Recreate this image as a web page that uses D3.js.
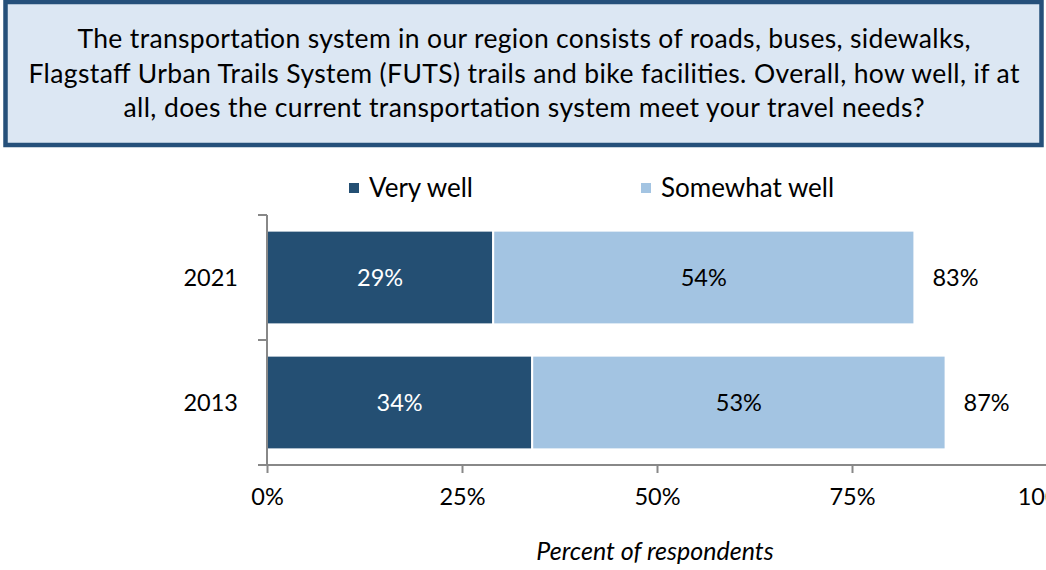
<!DOCTYPE html>
<html><head><meta charset="utf-8">
<script src="https://cdn.jsdelivr.net/npm/d3@7"></script>
<style>body{margin:0;background:#fff}svg{display:block}</style>
</head><body>
<svg id="c" width="1046" height="570"></svg>
<script>
const titleLines = [
  "The transportation system in our region consists of roads, buses, sidewalks,",
  "Flagstaff Urban Trails System (FUTS) trails and bike facilities. Overall, how well, if at",
  "all, does the current transportation system meet your travel needs?"
];
const years = ["2021", "2013"];
const seriesNames = ["Very well", "Somewhat well"];
const veryWell = [29, 34];
const somewhatWell = [54, 53];
const totals = [83, 87];
const xTicks = [0, 25, 50, 75, 100];
const xTickLabels = ["0%", "25%", "50%", "75%", "100%"];
const axisTitle = "Percent of respondents";
const colors = ["#244f73", "#a3c4e2"];

const FONT = "Lato, 'Open Sans', sans-serif";
const NUM = 23.5;
const svg = d3.select("#c");

// title box
svg.append("rect").attr("x", 5.5).attr("y", 2).attr("width", 1036).attr("height", 143)
  .attr("fill", "#dce7f3").attr("stroke", "#25507a").attr("stroke-width", 4.5);
const titleWidths = [893, 991, 801];
svg.append("g").selectAll("text").data(titleLines).join("text")
  .attr("x", 524).attr("y", (d, i) => 48 + i * 34.5)
  .attr("text-anchor", "middle").attr("font-family", FONT).attr("font-size", 26.5)
  .attr("textLength", (d, i) => titleWidths[i]).attr("lengthAdjust", "spacing")
  .attr("fill", "#000").text(d => d);

const x = d3.scaleLinear().domain([0, 100]).range([267, 1047]);
const y = d3.scaleBand().domain(years).range([215, 465]).paddingInner(0.25).paddingOuter(0.125);
const yb = d3.scaleBand().domain(years).range([215, 465]);

const stacked = years.map((yr, i) => [
  {yr, s: 0, x0: 0, x1: veryWell[i], v: veryWell[i]},
  {yr, s: 1, x0: veryWell[i], x1: veryWell[i] + somewhatWell[i], v: somewhatWell[i]}
]).flat();

const g = svg.append("g");
g.selectAll("rect").data(stacked).join("rect")
  .attr("x", d => x(d.x0)).attr("width", d => x(d.x1) - x(d.x0))
  .attr("y", d => y(d.yr)).attr("height", y.bandwidth())
  .attr("fill", d => colors[d.s]).attr("stroke", "#fff").attr("stroke-width", 2);

g.selectAll("text.seg").data(stacked).join("text").attr("class", "seg")
  .attr("x", d => x((d.x0 + d.x1) / 2)).attr("y", d => y(d.yr) + y.bandwidth() / 2)
  .attr("dy", "0.35em").attr("text-anchor", "middle")
  .attr("font-family", FONT).attr("font-size", NUM)
  .attr("fill", d => d.s === 0 ? "#fff" : "#000").text(d => d.v + "%");

g.selectAll("text.tot").data(years).join("text").attr("class", "tot")
  .attr("x", (d, i) => x(totals[i]) + 18).attr("y", d => y(d) + y.bandwidth() / 2)
  .attr("dy", "0.35em").attr("font-family", FONT).attr("font-size", NUM).text((d, i) => totals[i] + "%");

// y axis
const yAxis = svg.append("g").attr("transform", "translate(267,0)");
yAxis.append("line").attr("x1", 0).attr("x2", 0).attr("y1", 215).attr("y2", 465)
  .attr("stroke", "#888").attr("stroke-width", 2);
yAxis.selectAll("line.t").data(years.map(d => yb(d)).concat([yb(years[1]) + yb.bandwidth()]))
  .join("line").attr("class", "t").attr("x1", -9).attr("x2", 0).attr("y1", d => d).attr("y2", d => d)
  .attr("stroke", "#888").attr("stroke-width", 2);
yAxis.selectAll("text").data(years).join("text")
  .attr("x", -29).attr("y", d => yb(d) + yb.bandwidth() / 2).attr("dy", "0.35em")
  .attr("text-anchor", "end").attr("font-family", FONT).attr("font-size", NUM).text(d => d);

// x axis
const xAxis = svg.append("g").attr("transform", "translate(0,465)")
  .call(d3.axisBottom(x).tickValues(xTicks).tickFormat((d, i) => xTickLabels[i]).tickSize(8).tickSizeOuter(0));
xAxis.select(".domain").attr("stroke", "#888").attr("stroke-width", 2).attr("d", "M258,0H1047");
xAxis.selectAll(".tick line").attr("stroke", "#888").attr("stroke-width", 2);
xAxis.selectAll(".tick text").attr("font-family", FONT).attr("font-size", NUM).attr("fill", "#000")
  .attr("y", 32).attr("dy", "0.35em");

svg.append("text").attr("x", 655).attr("y", 551).attr("dy", "0.35em").attr("text-anchor", "middle")
  .attr("font-family", FONT).attr("font-style", "italic").attr("font-size", 25).text(axisTitle);

// legend
const legX = [349, 641];
const leg = svg.append("g").selectAll("g").data(seriesNames).join("g")
  .attr("transform", (d, i) => `translate(${legX[i]},188)`);
leg.append("rect").attr("x", 0).attr("y", -5).attr("width", 10).attr("height", 10).attr("fill", (d, i) => colors[i]);
leg.append("text").attr("x", 20).attr("dy", "0.35em").attr("font-family", FONT).attr("font-size", 26).text(d => d);
</script>
</body></html>
